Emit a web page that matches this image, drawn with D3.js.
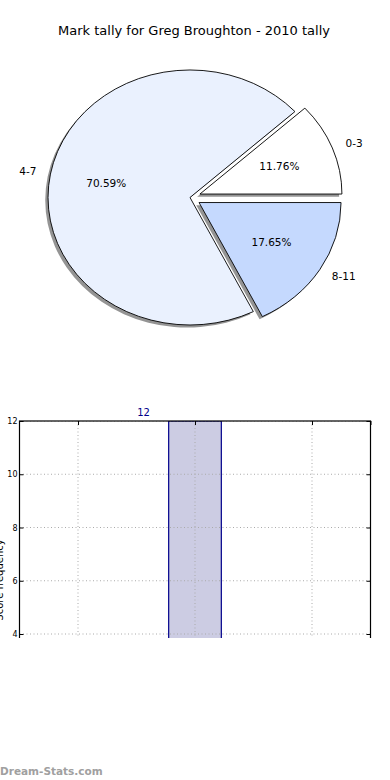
<!DOCTYPE html>
<html><head><meta charset="utf-8">
<script src="https://cdn.jsdelivr.net/npm/d3@7"></script>
<style>body{margin:0;background:#fff}svg{display:block}text{font-family:"DejaVu Sans",sans-serif}</style>
</head><body>
<script>
const title = "Mark tally for Greg Broughton - 2010 tally";
const categories = ["0-3", "4-7", "8-11"];
const counts = [2, 12, 3];
const sliceColors = ["#ffffff", "#eaf1fe", "#c5d9fe"];
const explode = [0.075, 0, 0.075];
const barPositions = [0, 1, 2];
const yTicks = [4, 6, 8, 10, 12];
const yLabel = "Score frequency";
const watermark = "Dream-Stats.com";

const W = 390, H = 780;
const svg = d3.select("body").append("svg").attr("width", W).attr("height", H);

svg.append("text").attr("x", 194).attr("y", 35).attr("text-anchor", "middle")
  .attr("font-size", 13).attr("fill", "#000").text(title);

// ---------- Pie (elliptical, matplotlib style: start at 3 o'clock, CCW) ----------
const cx = 190, cy = 197.5, rx = 142, ry = 127.5;
const total = d3.sum(counts);
const fr = counts.map(c => c / total);
let acc = 0;
const slices = fr.map((f, i) => {
  const a0 = acc * 2 * Math.PI, a1 = (acc + f) * 2 * Math.PI; acc += f;
  const mid = (a0 + a1) / 2;
  const ox = cx + explode[i] * rx * Math.cos(mid);
  const oy = cy - explode[i] * ry * Math.sin(mid);
  return {i, a0, a1, mid, ox, oy, f};
});
const arc = d3.arc().innerRadius(0).outerRadius(1);
const pathFor = s => arc({startAngle: Math.PI / 2 - s.a1, endAngle: Math.PI / 2 - s.a0});
const pie = svg.append("g");
slices.forEach(s => {
  pie.append("path").attr("d", pathFor(s))
    .attr("transform", `translate(${s.ox - 2.8},${s.oy + 2.6}) scale(${rx},${ry})`)
    .attr("fill", "#000").attr("fill-opacity", 0.42);
});
slices.forEach(s => {
  pie.append("path").attr("d", pathFor(s))
    .attr("transform", `translate(${s.ox},${s.oy}) scale(${rx},${ry})`)
    .attr("fill", sliceColors[s.i]).attr("stroke", "#000").attr("stroke-width", 0.9)
    .attr("vector-effect", "non-scaling-stroke");
});
slices.forEach(s => {
  const c = Math.cos(s.mid), sn = Math.sin(s.mid);
  pie.append("text")
    .attr("x", s.ox + 1.1 * rx * c).attr("y", s.oy - 1.1 * ry * sn)
    .attr("dy", "0.35em").attr("text-anchor", c >= 0 ? "start" : "end")
    .attr("font-size", 10.5).text(categories[s.i]);
  pie.append("text")
    .attr("x", s.ox + 0.6 * rx * c).attr("y", s.oy - 0.6 * ry * sn)
    .attr("dy", "0.35em").attr("text-anchor", "middle")
    .attr("font-size", 10.5).text((s.f * 100).toFixed(2) + "%");
});

// ---------- Bar chart (bottom part clipped) ----------
const x = d3.scaleLinear().domain([-0.5, 2.5]).range([19.5, 370.5]);
const y = d3.scaleLinear().domain([4, 12]).range([634, 421]);
const clipBottom = 638;
svg.append("clipPath").attr("id", "clip").append("rect")
  .attr("x", -10).attr("y", 0).attr("width", W + 20).attr("height", clipBottom);
const bc = svg.append("g").attr("clip-path", "url(#clip)");
const plot = bc.append("g");
plot.append("clipPath").attr("id", "plotclip").append("rect")
  .attr("x", x(-0.5)).attr("y", y(12)).attr("width", x(2.5) - x(-0.5)).attr("height", 400);
const inner = plot.append("g").attr("clip-path", "url(#plotclip)");
inner.selectAll("rect.bar").data(counts).join("rect").attr("class", "bar")
  .attr("x", (d, i) => x(barPositions[i] - 0.225))
  .attr("width", (d, i) => x(barPositions[i] + 0.225) - x(barPositions[i] - 0.225))
  .attr("y", d => y(d)).attr("height", d => y(0) - y(d))
  .attr("fill", "#ccccE3").attr("stroke", "#00008b").attr("stroke-width", 1.2);
yTicks.forEach(t => {
  inner.append("line").attr("x1", x(-0.5)).attr("x2", x(2.5)).attr("y1", y(t)).attr("y2", y(t))
    .attr("stroke", "#aaa").attr("stroke-width", 1).attr("stroke-dasharray", "1,2.5");
});
barPositions.forEach(p => {
  inner.append("line").attr("x1", x(p)).attr("x2", x(p)).attr("y1", y(12)).attr("y2", y(0))
    .attr("stroke", "#aaa").attr("stroke-width", 1).attr("stroke-dasharray", "1,2.5");
});
plot.append("rect").attr("x", x(-0.5)).attr("y", y(12)).attr("width", x(2.5) - x(-0.5))
  .attr("height", y(0) - y(12)).attr("fill", "none").attr("stroke", "#000").attr("stroke-width", 1.2);
const gL = plot.append("g").attr("transform", `translate(${x(-0.5)},0)`).call(d3.axisRight(y).tickValues(yTicks).tickSize(4).tickFormat(""));
const gR = plot.append("g").attr("transform", `translate(${x(2.5)},0)`).call(d3.axisLeft(y).tickValues(yTicks).tickSize(4).tickFormat(""));
const gT = plot.append("g").attr("transform", `translate(0,${y(12)})`).call(d3.axisBottom(x).tickValues([...barPositions, 2.5]).tickSize(4).tickFormat(""));
[gL, gR, gT].forEach(g => { g.select(".domain").remove(); g.selectAll("line").attr("stroke", "#000"); });
const gLab = plot.append("g").attr("transform", `translate(${x(-0.5)},0)`)
  .call(d3.axisLeft(y).tickValues(yTicks).tickSize(0).tickPadding(2));
gLab.select(".domain").remove();
gLab.selectAll("text").attr("font-size", 8).attr("font-family", "DejaVu Sans").attr("fill", "#000");
bc.selectAll("text.val").data(counts).join("text").attr("class", "val")
  .attr("x", (d, i) => x(barPositions[i] - 0.44)).attr("y", d => y(d) - 5)
  .attr("text-anchor", "middle").attr("font-size", 10).attr("fill", "#00008b").text(d => d);
bc.append("text").attr("transform", `translate(2.5,580) rotate(-90)`)
  .attr("text-anchor", "middle").attr("font-size", 10).attr("fill", "#000").text(yLabel);

svg.append("text").attr("x", 0).attr("y", 775).attr("font-family", "'Open Sans',sans-serif")
  .attr("font-weight", 600).attr("font-size", 10.5).attr("fill", "#a0a0a0").text(watermark);
</script>
</body></html>
